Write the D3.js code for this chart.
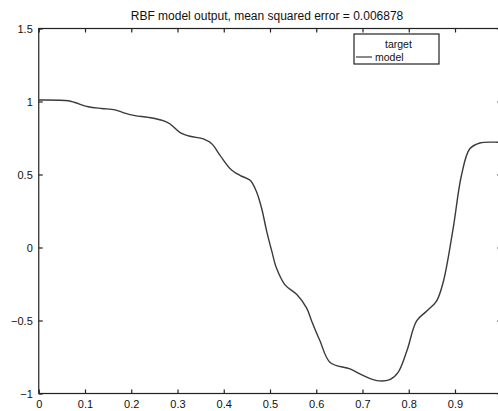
<!DOCTYPE html>
<html>
<head>
<meta charset="utf-8">
<script src="https://cdn.jsdelivr.net/npm/d3@7"></script>
<style>
body{margin:0;background:#fff;}
svg{display:block;font-family:"Liberation Sans",Arial,sans-serif;}
</style>
</head>
<body>
<script>
var width = 498, height = 411;
var padLeft = 38.75, padRight = 501.25, padTop = 28.5, padBottom = 393.5;

var title = "RBF model output, mean squared error = 0.006878";
var legendNames = ["target", "model"];
var xTicks = [0, 0.1, 0.2, 0.3, 0.4, 0.5, 0.6, 0.7, 0.8, 0.9, 1];
var yTicks = [-1, -0.5, 0, 0.5, 1, 1.5];

// model output
var xs = [0, 0.064, 0.078, 0.107, 0.136, 0.165, 0.186, 0.208, 0.237, 0.269,
          0.284, 0.305, 0.327, 0.356, 0.374, 0.392, 0.414, 0.435, 0.457, 0.471,
          0.482, 0.493, 0.504, 0.514, 0.532, 0.558, 0.579, 0.590, 0.608, 0.630,
          0.673, 0.702, 0.731, 0.759, 0.777, 0.796, 0.817, 0.839, 0.860, 0.875,
          0.896, 0.914, 0.932, 0.954, 0.994, 1];
var ys = [1.01, 1.005, 0.993, 0.964, 0.952, 0.943, 0.92, 0.903, 0.891, 0.869,
          0.846, 0.789, 0.762, 0.744, 0.710, 0.631, 0.540, 0.494, 0.460, 0.380,
          0.267, 0.109, -0.027, -0.141, -0.254, -0.322, -0.413, -0.503, -0.639, -0.787,
          -0.832, -0.878, -0.912, -0.905, -0.855, -0.707, -0.503, -0.435, -0.367, -0.231,
          0.131, 0.495, 0.676, 0.716, 0.721, 0.721];

var svg = d3.select("body").append("svg")
    .attr("width", width)
    .attr("height", height);

var x = d3.scaleLinear().domain([0, 1]).range([padLeft, padRight]);
var y = d3.scaleLinear().domain([-1, 1.5]).range([padBottom, padTop]);

var fmt = function(d){ return String(d).replace("-", "\u2212"); };
// the x=1 label falls outside the picture, like in the original
var fmtX = function(d){ return d >= 1 ? "" : fmt(d); };

// box
svg.append("rect")
    .attr("x", padLeft).attr("y", padTop)
    .attr("width", padRight - padLeft).attr("height", padBottom - padTop)
    .attr("fill", "none").attr("stroke", "#222").attr("stroke-width", 1.2);

var styleAxis = function(g){
    g.select(".domain").remove();
    g.selectAll(".tick line").attr("stroke", "#222").attr("stroke-width", 1.2);
    g.selectAll(".tick text").attr("fill", "#111").style("font-size", "11px");
};

svg.append("g").attr("transform", "translate(0," + padBottom + ")")
    .call(d3.axisBottom(x).tickValues(xTicks).tickFormat(fmtX).tickSizeInner(-4).tickSizeOuter(0).tickPadding(7))
    .call(styleAxis);
svg.append("g").attr("transform", "translate(0," + padTop + ")")
    .call(d3.axisTop(x).tickValues(xTicks).tickFormat("").tickSizeInner(-4).tickSizeOuter(0))
    .call(styleAxis);
svg.append("g").attr("transform", "translate(" + padLeft + ",0)")
    .call(d3.axisLeft(y).tickValues(yTicks).tickFormat(fmt).tickSizeInner(-4).tickSizeOuter(0).tickPadding(6))
    .call(styleAxis);
svg.append("g").attr("transform", "translate(" + padRight + ",0)")
    .call(d3.axisRight(y).tickValues(yTicks).tickFormat("").tickSizeInner(-4).tickSizeOuter(0))
    .call(styleAxis);

// curve
var pts = d3.zip(xs, ys);
svg.append("path")
    .datum(pts)
    .attr("fill", "none")
    .attr("stroke", "#3a3a3a")
    .attr("stroke-width", 1.4)
    .attr("d", d3.line()
        .x(function(d){ return x(d[0]); })
        .y(function(d){ return y(d[1]); })
        .curve(d3.curveCatmullRom.alpha(0.5)));

// title
svg.append("text")
    .attr("x", (padLeft + padRight) / 2 - 3).attr("y", 20)
    .attr("text-anchor", "middle")
    .style("font-size", "12px").attr("fill", "#111")
    .text(title);

// legend
var lg = svg.append("g");
lg.append("rect")
    .attr("x", 354).attr("y", 34).attr("width", 85).attr("height", 30)
    .attr("fill", "#fff").attr("stroke", "#222").attr("stroke-width", 1.2);
lg.append("text").attr("x", 385).attr("y", 48)
    .style("font-size", "10.5px").attr("fill", "#111").text(legendNames[0]);
lg.append("line").attr("x1", 356).attr("x2", 372).attr("y1", 57).attr("y2", 57)
    .attr("stroke", "#3a3a3a").attr("stroke-width", 1.2);
lg.append("text").attr("x", 375).attr("y", 60.5)
    .style("font-size", "10.5px").attr("fill", "#111").text(legendNames[1]);
</script>
</body>
</html>
